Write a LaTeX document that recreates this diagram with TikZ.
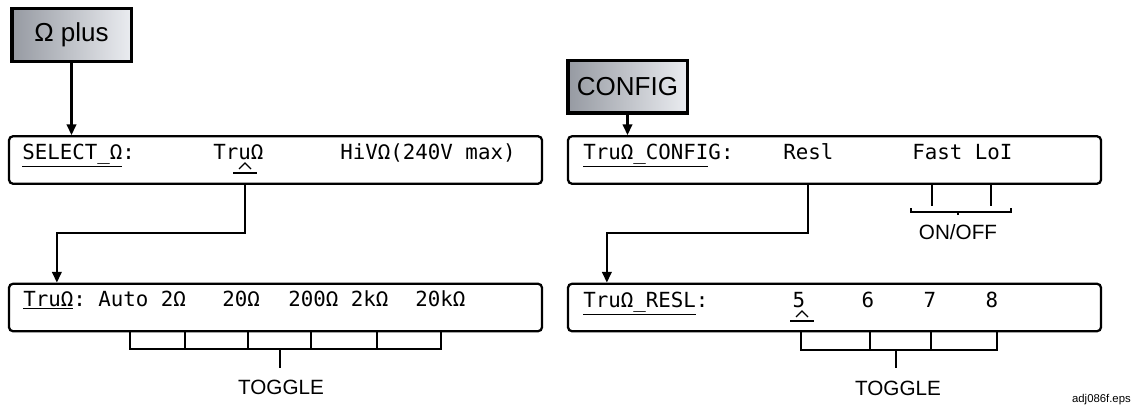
\documentclass[tikz,border=0pt]{standalone}
\usepackage{fontspec}
\setsansfont{Liberation Sans}
\newfontfamily\lcdfont{DejaVu Sans Mono}
\usetikzlibrary{arrows.meta}
\definecolor{keydark}{RGB}{150,154,162}
\definecolor{keylight}{RGB}{234,236,240}

\begin{document}
\begin{tikzpicture}[
  x=0.75pt, y=-0.75pt,
  flow/.style={-{Triangle[length=8pt,width=7pt]}, line width=1.7pt},
  tick/.style={line width=1.7pt},
  keycap/.style={draw, line width=2.5pt, left color=keydark, right color=keylight, font=\sffamily\fontsize{19.5}{22}\selectfont, minimum width=89.5pt, minimum height=39.5pt, inner sep=0pt},
  lcd/.style={draw, line width=1.7pt, rounded corners=3pt, minimum width=399.75pt, minimum height=35.6pt, inner sep=0pt},
  lcdtext/.style={font=\lcdfont\fontsize{15.6}{18}\selectfont, anchor=base west, inner sep=0pt},
  hint/.style={font=\sffamily\fontsize{15.5}{18}\selectfont, anchor=base, inner sep=0pt},
  lcdcursor/.pic={\draw[line width=0.9pt] (-6,6) -- (0,0) -- (6,6); \draw[line width=0.9pt] (-12,10) -- (12,10);}
]
\useasboundingbox (0,0) rectangle (1132,414);

\node[keycap] (ohmkey) at (71.5,35) {Ω plus};
\node[keycap] (cfgkey) at (627.5,86.5) {CONFIG};
\node[lcd] (select) at (275.5,160) {};
\node[lcd] (range) at (275.5,307.5) {};
\node[lcd] (config) at (834.5,160) {};
\node[lcd] (resl) at (834.5,307.5) {};

\node[lcdtext] (selname) at (22,159) {\underline{SELECT\_Ω}:};
\node[lcdtext] (seltru) at (213,159) {TruΩ};
\node[lcdtext] (selhiv) at (340,159) {HiVΩ(240V max)};
\coordinate (selcur) at (245,163);
\pic at (selcur) {lcdcursor};

\node[lcdtext] (rngname) at (23,306) {\underline{TruΩ}:};
\node[lcdtext] (rngauto) at (98,306) {Auto 2Ω};
\node[lcdtext] (rngtwenty) at (222,306) {20Ω};
\node[lcdtext] (rnghundred) at (288,306) {200Ω 2kΩ};
\node[lcdtext] (rngkilo) at (415,306) {20kΩ};

\node[lcdtext] (cfgname) at (583,159) {\underline{TruΩ\_CONFI}G:};
\node[lcdtext] (cfgresl) at (783,159) {Resl};
\node[lcdtext] (cfgfast) at (912,159) {Fast LoI};

\node[lcdtext] (reslname) at (583,307) {\underline{TruΩ\_RESL}:};
\foreach \d/\dx in {5/799,6/868,7/930,8/992}
  \node[lcdtext, anchor=base] (digit\d) at (\dx,307) {\d};
\coordinate (reslcur) at (802,311);
\pic at (reslcur) {lcdcursor};

\draw[flow] (ohmkey) -- (ohmkey |- select.north);
\draw[flow] (cfgkey) -- (cfgkey |- config.north);
\draw[flow] (selcur |- select.south) -- ++(0,48) -| ([xshift=36.75pt]range.north west);
\draw[flow] (cfgresl |- config.south) -- ++(0,48) -| ([xshift=30pt]resl.north west);

\draw[tick] (130,332) |- (441,349) -- (441,332);
\foreach \tx in {185,248,311,377}
  \draw[tick] (\tx,332) -- (\tx,349);
\draw[tick] (280,349) -- (280,368);
\node[hint] (toggleleft) at (281,394) {TOGGLE};

\draw[tick] (801,332) |- (997,350) -- (997,332);
\foreach \tx in {870,931}
  \draw[tick] (\tx,332) -- (\tx,350);
\draw[tick] (896,350) -- (896,368);
\node[hint] (toggleright) at (898,395) {TOGGLE};

\foreach \tx in {932,991}
  \draw[tick] (\tx,185) -- (\tx,206);
\draw[tick] (911,208) |- (1011,212) -- (1011,208);
\draw[tick] (958,212) -- (958,215);
\node[hint] (onoff) at (958,239) {ON/OFF};

\node[anchor=base east, inner sep=0pt, font=\sffamily\fontsize{8.5}{10}\selectfont] (fileref) at (1131,402) {adj086f.eps};
\end{tikzpicture}
\end{document}
